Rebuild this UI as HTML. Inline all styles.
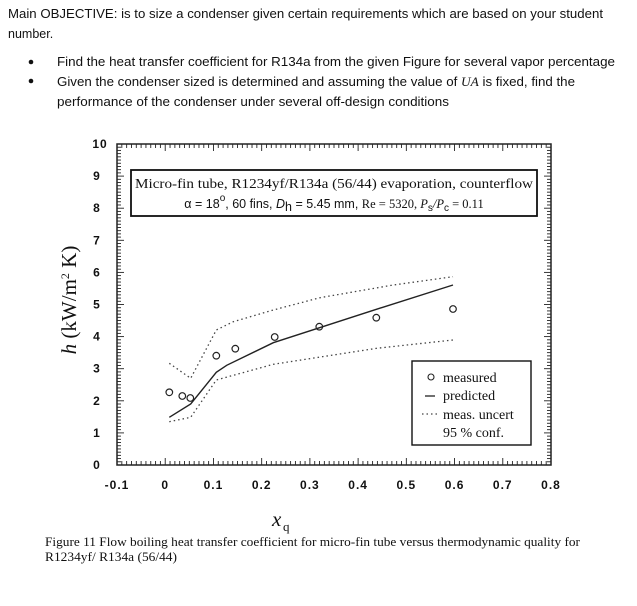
<!DOCTYPE html>
<html><head><meta charset="utf-8"><style>
html,body{margin:0;padding:0;background:#fff;width:637px;height:606px;overflow:hidden}
svg{display:block}
.c{font-family:"Liberation Sans",sans-serif;font-size:12.5px;fill:#111}
.s{font-family:"Liberation Serif",serif;fill:#111}
.t{font-family:"Liberation Sans",sans-serif;font-size:12px;font-weight:bold;fill:#111;letter-spacing:1px}
</style></head><body>
<svg id="g" width="637" height="606" viewBox="0 0 637 606" xmlns="http://www.w3.org/2000/svg">
<text class="c" x="8" y="18" textLength="595" lengthAdjust="spacingAndGlyphs">Main OBJECTIVE: is to size a condenser given certain requirements which are based on your student</text>
<text class="c" x="8" y="38">number.</text>
<circle cx="31" cy="62" r="2.3" fill="#111"/>
<circle cx="31" cy="81" r="2.3" fill="#111"/>
<text class="c" x="57" y="66" textLength="558" lengthAdjust="spacingAndGlyphs">Find the heat transfer coefficient for R134a from the given Figure for several vapor percentage</text>
<text class="c" x="57" y="86" textLength="518" lengthAdjust="spacingAndGlyphs">Given the condenser sized is determined and assuming the value of <tspan font-family="Liberation Serif" font-style="italic">UA</tspan> is fixed, find the</text>
<text class="c" x="57" y="106" textLength="392" lengthAdjust="spacingAndGlyphs">performance of the condenser under several off-design conditions</text>

<rect x="117" y="144" width="434" height="321" fill="none" stroke="#222" stroke-width="1.5"/>
<g id="ticks" stroke="#222" stroke-width="0.9"></g>
<g id="labels"></g>

<rect x="131" y="170" width="406" height="46" fill="#fff" stroke="#111" stroke-width="1.8"/>
<text class="s" x="334" y="188" font-size="13.5" text-anchor="middle" textLength="398" lengthAdjust="spacingAndGlyphs">Micro-fin tube, R1234yf/R134a (56/44) evaporation, counterflow</text>
<text x="334" y="208" font-size="12.5" text-anchor="middle" fill="#111" font-family="Liberation Sans Narrow, Liberation Sans, sans-serif"><tspan>α = 18</tspan><tspan dy="-7" font-size="10">o</tspan><tspan dy="7">, 60 fins, </tspan><tspan font-style="italic">D</tspan><tspan dy="3">h</tspan><tspan dy="-3"> = 5.45 mm, </tspan><tspan font-family="Liberation Serif">Re = 5320, </tspan><tspan font-family="Liberation Serif" font-style="italic">P</tspan><tspan dy="3" font-size="10">s</tspan><tspan dy="-3" font-family="Liberation Serif" font-style="italic">/P</tspan><tspan dy="3" font-size="10">c</tspan><tspan dy="-3" font-family="Liberation Serif"> = 0.11</tspan></text>

<polyline points="169.3,363.3 190.7,378.3 216.3,330 233.3,321.7 273.3,310 320,297.7 393.3,285 453,276.7" fill="none" stroke="#444" stroke-width="1.3" stroke-dasharray="1.5,3"/>
<polyline points="169.3,421.7 190.7,417.3 216.3,380 273.3,364.3 376.7,348.3 453,340" fill="none" stroke="#444" stroke-width="1.3" stroke-dasharray="1.5,3"/>
<polyline points="169.3,417.3 190.7,404 216.3,372.3 226.7,365.3 273.3,342.7 373.3,310.3 453,285" fill="none" stroke="#222" stroke-width="1.4"/>
<g fill="none" stroke="#222" stroke-width="1.2">
<circle cx="169.3" cy="392.3" r="3.3"/><circle cx="182.3" cy="396" r="3.3"/><circle cx="190.3" cy="398" r="3.3"/>
<circle cx="216.3" cy="355.7" r="3.3"/><circle cx="235.3" cy="348.7" r="3.3"/><circle cx="274.7" cy="337" r="3.3"/>
<circle cx="319.3" cy="326.7" r="3.3"/><circle cx="376.3" cy="317.7" r="3.3"/><circle cx="453" cy="309" r="3.3"/>
</g>

<rect x="412" y="361" width="119" height="84" fill="#fff" stroke="#111" stroke-width="1.4"/>
<circle cx="431" cy="377" r="3" fill="none" stroke="#222" stroke-width="1.1"/>
<line x1="425" y1="396" x2="435" y2="396" stroke="#222" stroke-width="1.3"/>
<line x1="422" y1="414" x2="437" y2="414" stroke="#444" stroke-width="1.2" stroke-dasharray="1.5,3"/>
<g class="s" font-size="14">
<text x="443" y="382">measured</text>
<text x="443" y="400">predicted</text>
<text x="443" y="419">meas. uncert</text>
<text x="443" y="437">95 % conf.</text>
</g>

<text class="s" font-size="21" transform="translate(76,300) rotate(-90)" text-anchor="middle"><tspan font-style="italic">h</tspan> (kW/m<tspan dy="-7" font-size="12">2</tspan><tspan dy="7"> K)</tspan></text>
<text class="s" x="272" y="526" font-size="21" font-style="italic">x</text><text class="s" x="283" y="531" font-size="13">q</text>
<text class="s" x="45" y="546" font-size="12.5" textLength="535" lengthAdjust="spacingAndGlyphs">Figure 11  Flow boiling heat transfer coefficient for micro-fin tube versus thermodynamic quality for</text>
<text class="s" x="45" y="561" font-size="12.5" textLength="132" lengthAdjust="spacingAndGlyphs">R1234yf/ R134a (56/44)</text>
</svg>
<script>
var NS="http://www.w3.org/2000/svg",tk=document.getElementById("ticks"),lb=document.getElementById("labels");
function L(x1,y1,x2,y2){var l=document.createElementNS(NS,"line");l.setAttribute("x1",x1);l.setAttribute("y1",y1);l.setAttribute("x2",x2);l.setAttribute("y2",y2);tk.appendChild(l);}
function T(x,y,s,a){var t=document.createElementNS(NS,"text");t.setAttribute("x",x);t.setAttribute("y",y);t.setAttribute("class","t");t.setAttribute("text-anchor",a);t.textContent=s;lb.appendChild(t);}
var x0=117,xw=434,y0=465,yh=321;
for(var i=0;i<=90;i++){var x=x0+xw*i/90,len=(i%10==0)?7:4;L(x,y0,x,y0-len);L(x,144,x,144+len);}
for(var i=0;i<=100;i++){var y=y0-yh*i/100,len=(i%10==0)?7:4;L(x0,y,x0+len,y);L(551,y,551-len,y);}
var xl=["-0.1","0","0.1","0.2","0.3","0.4","0.5","0.6","0.7","0.8"];
for(var i=0;i<10;i++)T(x0+xw*i/9,489,xl[i],"middle");
for(var i=0;i<=10;i++)T(i==10?100:97,y0-yh*i/10+4,String(i),"middle");
</script>
</body></html>
